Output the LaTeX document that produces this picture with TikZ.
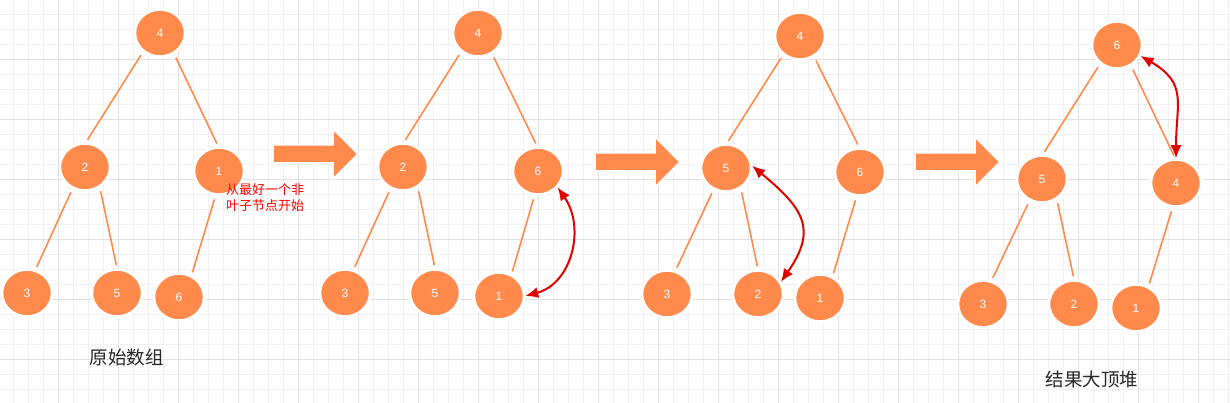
\documentclass[tikz,border=0pt]{standalone}
\usepackage{fontspec}
\setmainfont{Liberation Sans}
\newfontfamily\cjkfont{Noto Sans CJK SC}
\usetikzlibrary{arrows.meta,shapes.geometric}

\definecolor{heaporange}{HTML}{FF8A4C}
\definecolor{gridthin}{HTML}{F1F1F1}
\definecolor{gridthick}{HTML}{E2E2E2}
\definecolor{swapred}{HTML}{E00000}

\begin{document}
\begin{tikzpicture}[
  x=1pt, y=1pt,
  font=\fontsize{12}{14}\selectfont,
  hnode/.style={ellipse, fill=heaporange, draw=white, line width=2.5pt,
                minimum width=50pt, minimum height=47pt, inner sep=0pt, text=white},
  link/.style={heaporange, line width=1.6pt, shorten >=3pt, shorten <=4pt},
  swap/.style={{Latex[length=13pt,width=11pt]}-{Latex[length=13pt,width=11pt]},
               swapred, line width=2pt},
  bigarrow/.style={fill=heaporange, draw=white, line width=1.5pt, line join=miter},
  note/.style={font=\cjkfont\fontsize{13}{16}\selectfont, text=red, align=center, inner sep=0pt},
  caption/.style={font=\cjkfont\fontsize{18.5}{20}\selectfont, text=black!85, inner sep=0pt},
]
  % background and grid
  \fill[white] (0,0) rectangle (1230,-403);
  \useasboundingbox (0,0) rectangle (1230,-403);
  \foreach \gx in {13,28,...,1228} \draw[gridthin, line width=0.8pt] (\gx,0) -- (\gx,-403);
  \foreach \gy in {14,29,...,389} \draw[gridthin, line width=0.8pt] (0,-\gy) -- (1230,-\gy);
  \foreach \gx in {58,118,...,1198} \draw[gridthick, line width=0.8pt] (\gx,0) -- (\gx,-403);
  \foreach \gy in {59,119,...,359} \draw[gridthick, line width=0.8pt] (0,-\gy) -- (1230,-\gy);

  % step arrows
  \foreach \ax/\ay in {273/154, 595/162, 915/162}
    \filldraw[bigarrow] (\ax,-\ay) ++(0,9) -- ++(60,0) -- ++(0,16) -- ++(25,-25)
      -- ++(-25,-25) -- ++(0,16) -- ++(-60,0) -- cycle;

  % original array
  \node[hnode] (a4) at (160,-33) {4};
  \node[hnode] (a2) at (85,-167) {2};
  \node[hnode] (a1) at (219,-171) {1};
  \node[hnode] (a3) at (27,-293) {3};
  \node[hnode] (a5) at (117,-293) {5};
  \node[hnode] (a6) at (179,-297) {6};
  \draw[link] (a4.228) -- (a2.88);
  \draw[link] (a4.304) -- (a1.92);
  \draw[link] (a2.240) -- (a3.70);
  \draw[link] (a2.306) -- (a5.90);
  \draw[link] (a1.262) -- (a6.60);

  \node[note] (start) at (265,-198) {从最好一个非\\叶子节点开始};
  \node[caption] (orig) at (126.5,-357) {原始数组};

  % 1 <-> 6
  \node[hnode] (b4) at (478,-33) {4};
  \node[hnode] (b2) at (403,-167) {2};
  \node[hnode] (b6) at (538,-171) {6};
  \node[hnode] (b3) at (345,-293) {3};
  \node[hnode] (b5) at (435,-293) {5};
  \node[hnode] (b1) at (499,-296) {1};
  \draw[link] (b4.228) -- (b2.88);
  \draw[link] (b4.304) -- (b6.92);
  \draw[link] (b2.240) -- (b3.70);
  \draw[link] (b2.306) -- (b5.90);
  \draw[link] (b6.262) -- (b1.60);
  \draw[swap] (b6.-40) to[out=-55, in=15, looseness=1.1] (b1.east);

  % 2 <-> 5
  \node[hnode] (c4) at (800,-36) {4};
  \node[hnode] (c5) at (726,-168) {5};
  \node[hnode] (c6) at (860,-172) {6};
  \node[hnode] (c3) at (667,-294) {3};
  \node[hnode] (c2) at (758,-294) {2};
  \node[hnode] (c1) at (820,-298) {1};
  \draw[link] (c4.228) -- (c5.88);
  \draw[link] (c4.304) -- (c6.92);
  \draw[link] (c5.240) -- (c3.70);
  \draw[link] (c5.306) -- (c2.90);
  \draw[link] (c6.262) -- (c1.60);
  \draw[swap] (c5.5) to[out=-40, in=55, looseness=1.4] (c2.28);

  % 4 <-> 6, result
  \node[hnode] (d6) at (1117,-45) {6};
  \node[hnode] (d5) at (1042,-179) {5};
  \node[hnode] (d4) at (1176,-183) {4};
  \node[hnode] (d3) at (983,-304) {3};
  \node[hnode] (d2) at (1074,-304) {2};
  \node[hnode] (d1) at (1136,-308) {1};
  \draw[link] (d6.228) -- (d5.88);
  \draw[link] (d6.304) -- (d4.92);
  \draw[link] (d5.240) -- (d3.70);
  \draw[link] (d5.306) -- (d2.90);
  \draw[link] (d4.262) -- (d1.60);
  \draw[swap] (d6.-25) to[out=-30, in=90, looseness=1.3] (d4.north);

  \node[caption] (heap) at (1092,-379) {结果大顶堆};
\end{tikzpicture}
\end{document}
